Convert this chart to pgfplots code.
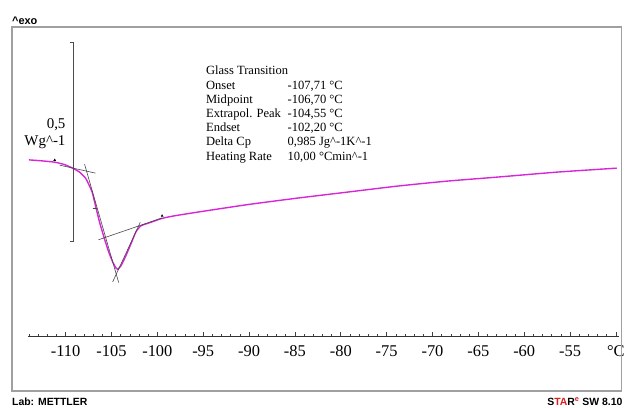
\documentclass[border=0pt]{standalone}
\usepackage{fontspec}
\setmainfont{Liberation Serif}
\newfontfamily\arialf{Liberation Sans}
\usepackage{pgfplots}
\pgfplotsset{compat=1.18}
\definecolor{curve}{RGB}{214,38,214}
\definecolor{framegray}{RGB}{160,160,160}
\definecolor{tang}{RGB}{70,70,70}
\definecolor{starred}{RGB}{220,30,30}
\begin{document}
\begin{tikzpicture}
\begin{axis}[
 scale only axis, width=594pt, height=311pt,
 xmin=-114.09, xmax=-49.65, ymin=0, ymax=0.7775,
 axis x line*=bottom, axis y line=none,
 x axis line style={draw=black!80, line width=0.8pt},
 clip=false,
 xtick={-110,-105,-100,-95,-90,-85,-80,-75,-70,-65,-60,-55,-50},
 xticklabels={-110,-105,-100,-95,-90,-85,-80,-75,-70,-65,-60,-55,°C},
 minor xtick={-114,-113,...,-50},
 tick align=inside,
 major tick length=4pt, minor tick length=2.5pt,
 every tick/.style={black!75, line width=0.6pt},
 xticklabel style={font=\fontsize{16.5}{16.5}\selectfont, yshift=-6pt, text=black},
 /pgf/number format/assume math mode=true,
]
% frame and bounding
\draw[framegray, line width=1.5pt] (axis cs:-115.857,-0.1375) rectangle (axis cs:-49.371,0.7775);
\path (axis cs:-117.158,-0.18) rectangle (axis cs:-49.046,0.845);
% curve
\addplot[curve, line width=1.4pt, smooth, tension=0.35] coordinates {
(-114.013,0.44325) (-112.820,0.44125) (-111.193,0.4375) (-110.108,0.43125)
(-109.241,0.4225) (-108.482,0.4125) (-107.831,0.3975) (-107.397,0.3775)
(-107.104,0.36175) (-106.746,0.32825) (-106.312,0.2875) (-105.770,0.245)
(-105.304,0.21175) (-104.870,0.18675) (-104.501,0.17125) (-104.328,0.16825)
(-103.959,0.17750) (-103.416,0.20325) (-102.874,0.23250) (-102.332,0.26250)
(-101.790,0.27750) (-100.889,0.285) (-99.479,0.29625) (-98.178,0.30250)
(-95.466,0.3125) (-90.043,0.33125) (-84.620,0.3475) (-79.197,0.3625)
(-73.774,0.3775) (-68.351,0.39) (-62.928,0.40) (-56.421,0.4125) (-49.913,0.4225)
};
% tangents
\addplot[tang, line width=0.6pt] coordinates {(-110.651,0.43) (-106.746,0.41)};
\addplot[tang, line width=0.6pt] coordinates {(-107.939,0.4325) (-104.219,0.135)};
\addplot[tang, line width=0.6pt] coordinates {(-104.870,0.13675) (-101.866,0.28625)};
\addplot[tang, line width=0.6pt] coordinates {(-106.421,0.2425) (-99.479,0.2975)};
\addplot[tang, line width=0.6pt] coordinates {(-107.072,0.3225) (-106.529,0.3225)};
% markers
\addplot[only marks, mark=triangle*, mark size=1.2pt, black] coordinates {(-111.193,0.4425) (-99.479,0.3025)};
% scale bar
\addplot[black!70, line width=0.8pt] coordinates {(-109.566,0.7375) (-109.132,0.7375) (-109.132,0.2375) (-109.566,0.2375)};
\node[anchor=base east, inner sep=0pt, font=\fontsize{15}{15}\selectfont] at (axis cs:-110.0,0.5225) {0,5};
\node[anchor=base east, inner sep=0pt, font=\fontsize{15}{15}\selectfont] at (axis cs:-110.0,0.48) {Wg\textasciicircum-1};
% result table
\node[anchor=north west, inner sep=0pt, font=\fontsize{12.6}{14.3}\selectfont] at (axis cs:-94.707,0.6825) {%
\begin{tabular}{@{}l@{}l@{}}
\makebox[82pt][l]{Glass Transition} & \\
Onset & -107,71 °C\\
Midpoint & -106,70 °C\\
Extrapol. Peak & -104,55 °C\\
Endset & -102,20 °C\\
Delta Cp & 0,985 Jg\textasciicircum-1K\textasciicircum-1\\
Heating Rate & 10,00 °Cmin\textasciicircum-1
\end{tabular}};
% outer texts
\node[anchor=base west, inner sep=0pt, font=\arialf\bfseries\fontsize{11}{11}\selectfont] at (axis cs:-115.857,0.7825) {\textasciicircum exo};
\node[anchor=base west, inner sep=0pt, font=\arialf\bfseries\fontsize{10.5}{10.5}\selectfont] at (axis cs:-115.857,-0.175) {Lab: METTLER};
\node[anchor=base east, inner sep=0pt, font=\arialf\bfseries\fontsize{10.5}{10.5}\selectfont] at (axis cs:-49.26,-0.175) {S\textcolor{starred}{TA}R\textsuperscript{\textcolor{starred}{e}} SW 8.10};
\end{axis}
\end{tikzpicture}
\end{document}
